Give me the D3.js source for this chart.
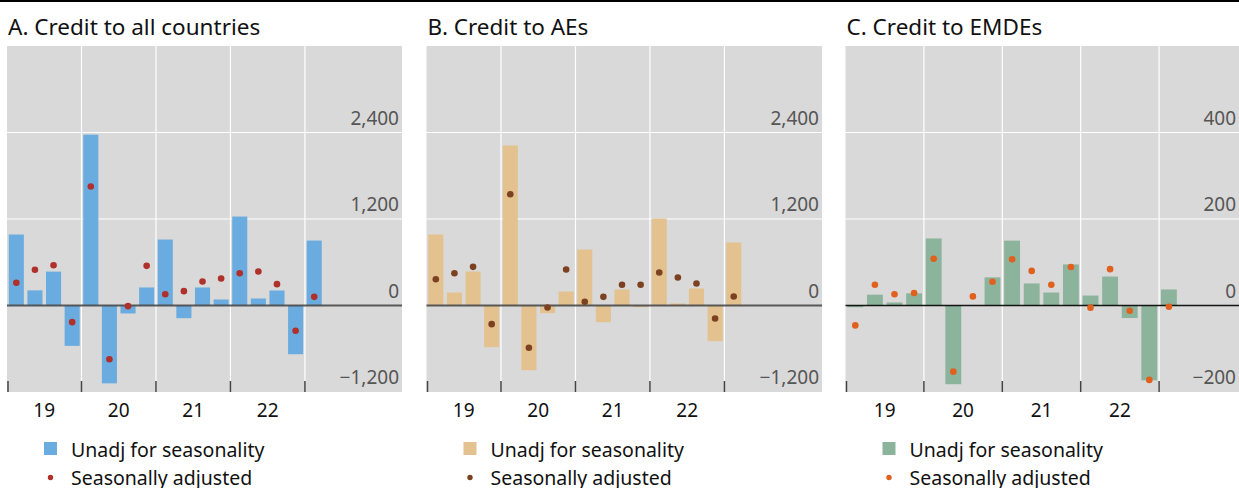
<!DOCTYPE html>
<html>
<head>
<meta charset="utf-8">
<script src="https://cdn.jsdelivr.net/npm/d3@7"></script>
<style>
  body { margin: 0; background: #fff; }
  text { font-family: "Noto Sans", "Open Sans", sans-serif; }
</style>
</head>
<body>
<div id="chart"></div>
<script>
// quarters 2019Q1 .. 2023Q1
var quarters = ["19Q1","19Q2","19Q3","19Q4","20Q1","20Q2","20Q3","20Q4",
                "21Q1","21Q2","21Q3","21Q4","22Q1","22Q2","22Q3","22Q4","23Q1"];
var yearLabels = ["19", "20", "21", "22"];

// Panel A: credit to all countries
var allUnadj = [985, 210, 470, -560, 2370, -1080, -110, 250, 915, -176, 250, 83, 1234, 97, 208, -676, 901];
var allAdj   = [315, 495, 559, -231, 1650, -745, -9, 550, 157, 199, 333, 374, 448, 471, 296, -351, 120];
// Panel B: credit to AEs
var aeUnadj = [985, 180, 472, -578, 2220, -897, -106, 194, 777, -231, 222, -23, 1207, 28, 236, -495, 874];
var aeAdj   = [365, 448, 536, -259, 1544, -587, -28, 499, 51, 120, 287, 287, 458, 388, 305, -180, 125];
// Panel C: credit to EMDEs
var emUnadj = [-4, 25, 7, 28, 155, -182, 0, 65, 150, 51, 30, 95, 23, 67, -29, -173, 37];
var emAdj   = [-46, 48, 26, 29, 108, -153, 21, 55, 107, 80, 48, 89, -5, 84, -12, -172, -3];

var ticksAB = [-1200, 0, 1200, 2400];
var ticksC  = [-200, 0, 200, 400];

var W = 1239, H = 488;
var plotTop = 46, plotBottom = 392;

var svg = d3.select("#chart")
  .append("svg")
    .attr("width", W)
    .attr("height", H);

// black rule across the top
svg.append("line")
  .attr("x1", 0).attr("x2", W)
  .attr("y1", 1).attr("y2", 1)
  .attr("stroke", "#000").attr("stroke-width", 2);

var panels = [
  {title: "A. Credit to all countries", left: 7, right: 402, slot: 18.62,
   domain: [-1200, 3600], ticks: ticksAB, unadj: allUnadj, adj: allAdj,
   bar: "#6aacdf", dot: "#b0302c", zero: "#4a4a4a", zeroW: 2.2},
  {title: "B. Credit to AEs", left: 426.5, right: 822, slot: 18.62,
   domain: [-1200, 3600], ticks: ticksAB, unadj: aeUnadj, adj: aeAdj,
   bar: "#e3c28f", dot: "#7b4120", zero: "#4a4a4a", zeroW: 2.2},
  {title: "C. Credit to EMDEs", left: 845.5, right: 1239, slot: 19.6,
   domain: [-200, 600], ticks: ticksC, unadj: emUnadj, adj: emAdj,
   bar: "#8cb39b", dot: "#e0601e", zero: "#000", zeroW: 1.5}
];

panels.forEach(function(p) {
  var g = svg.append("g");

  var x = d3.scaleLinear()
    .domain([0, (p.right - p.left) / p.slot])
    .range([p.left, p.right]);
  var y = d3.scaleLinear()
    .domain(p.domain)
    .range([plotBottom, plotTop]);

  // title
  g.append("text")
    .attr("x", p.left + 1)
    .attr("y", 35)
    .style("font-size", "22.5px")
    .style("fill", "#111")
    .text(p.title);

  // plot background
  g.append("rect")
    .attr("x", p.left).attr("y", plotTop)
    .attr("width", p.right - p.left)
    .attr("height", plotBottom - plotTop)
    .style("fill", "#d9d9d9");

  // horizontal grid
  g.selectAll(".hgrid")
    .data(p.ticks.filter(function(t) { return t !== 0 && t !== p.domain[0]; }))
    .enter()
    .append("line")
      .attr("x1", p.left).attr("x2", p.right)
      .attr("y1", function(d) { return y(d); })
      .attr("y2", function(d) { return y(d); })
      .attr("stroke", "#fff").attr("stroke-width", 1.2);

  // vertical grid at year starts
  g.selectAll(".vgrid")
    .data([4, 8, 12, 16])
    .enter()
    .append("line")
      .attr("x1", function(d) { return x(d); })
      .attr("x2", function(d) { return x(d); })
      .attr("y1", plotTop).attr("y2", plotBottom)
      .attr("stroke", "#fff").attr("stroke-width", 1.2);

  // bars
  var bw = p.slot * 0.81;
  g.selectAll(".bar")
    .data(p.unadj)
    .enter()
    .append("rect")
      .attr("x", function(d, i) { return x(i + 0.5) - bw / 2; })
      .attr("y", function(d) { return y(Math.max(0, d)); })
      .attr("width", bw)
      .attr("height", function(d) { return Math.abs(y(d) - y(0)); })
      .style("fill", p.bar);

  // zero line
  g.append("line")
    .attr("x1", p.left).attr("x2", p.right)
    .attr("y1", y(0)).attr("y2", y(0))
    .attr("stroke", p.zero).attr("stroke-width", p.zeroW)
    .attr("stroke-opacity", 0.9);

  // year tick marks at the bottom
  g.selectAll(".ytick")
    .data([0, 4, 8, 12, 16])
    .enter()
    .append("line")
      .attr("x1", function(d) { return x(d) + (d === 0 ? 1 : 0); })
      .attr("x2", function(d) { return x(d) + (d === 0 ? 1 : 0); })
      .attr("y1", plotBottom - 11).attr("y2", plotBottom)
      .attr("stroke", "#444").attr("stroke-width", 1.5);

  // dots
  g.selectAll(".dot")
    .data(p.adj)
    .enter()
    .append("circle")
      .attr("cx", function(d, i) { return x(i + 0.5); })
      .attr("cy", function(d) { return y(d); })
      .attr("r", 3.3)
      .style("fill", p.dot);

  // y tick labels
  g.selectAll(".ylab")
    .data(p.ticks)
    .enter()
    .append("text")
      .attr("x", p.right - 3)
      .attr("y", function(d) { return y(d) - 8; })
      .attr("text-anchor", "end")
      .style("font-size", "19px")
      .style("fill", "#555")
      .text(function(d) { return d3.format(",")(d).replace("-", "\u2212"); });

  // year labels
  g.selectAll(".xlab")
    .data(yearLabels)
    .enter()
    .append("text")
      .attr("x", function(d, i) { return x(i * 4 + 2); })
      .attr("y", 417)
      .attr("text-anchor", "middle")
      .style("font-size", "19px")
      .style("fill", "#111")
      .text(function(d) { return d; });

  // legend
  var lx = p.left + 37;
  g.append("rect")
    .attr("x", lx).attr("y", 442)
    .attr("width", 13).attr("height", 13)
    .style("fill", p.bar);
  g.append("circle")
    .attr("cx", lx + 6.5).attr("cy", 477.5)
    .attr("r", 2.7)
    .style("fill", p.dot);
  g.append("text")
    .attr("x", lx + 27).attr("y", 452)
    .attr("dominant-baseline", "middle")
    .style("font-size", "19.5px")
    .style("fill", "#111")
    .text("Unadj for seasonality");
  g.append("text")
    .attr("x", lx + 27).attr("y", 480)
    .attr("dominant-baseline", "middle")
    .style("font-size", "19.5px")
    .style("fill", "#111")
    .text("Seasonally adjusted");
});
</script>
</body>
</html>
